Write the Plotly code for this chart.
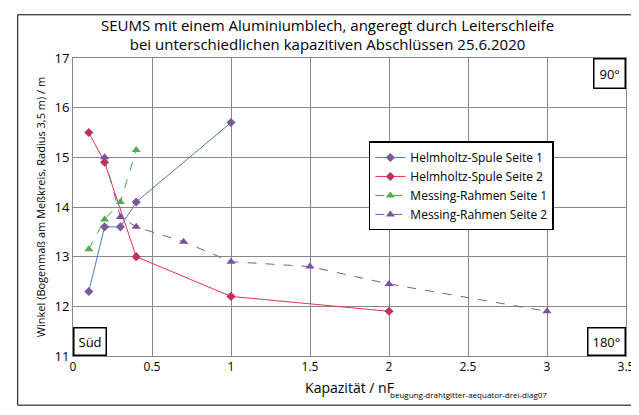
import plotly.graph_objects as go

# Helmholtz-Spule Seite 1
hs1_x = [0.1, 0.2, 0.3, 0.4, 1.0]
hs1_y = [12.3, 13.6, 13.6, 14.1, 15.7]
# Helmholtz-Spule Seite 2
hs2_x = [0.1, 0.2, 0.4, 1.0, 2.0]
hs2_y = [15.5, 14.9, 13.0, 12.2, 11.9]
# Messing-Rahmen Seite 1
mr1_x = [0.1, 0.2, 0.3, 0.4]
mr1_y = [13.15, 13.75, 14.1, 15.15]
# Messing-Rahmen Seite 2
mr2_x = [0.2, 0.3, 0.4, 0.7, 1.0, 1.5, 2.0, 3.0]
mr2_y = [15.0, 13.8, 13.6, 13.3, 12.9, 12.8, 12.45, 11.9]

fig = go.Figure()
fig.add_trace(go.Scatter(x=hs1_x, y=hs1_y, name="Helmholtz-Spule Seite 1", mode="lines+markers",
                         line=dict(color="#4a7ebb", width=1),
                         marker=dict(symbol="diamond", size=7, color="#7a5a9a")))
fig.add_trace(go.Scatter(x=hs2_x, y=hs2_y, name="Helmholtz-Spule Seite 2", mode="lines+markers",
                         line=dict(color="#e8334a", width=1),
                         marker=dict(symbol="diamond", size=7, color="#c0305a")))
fig.add_trace(go.Scatter(x=mr1_x, y=mr1_y, name="Messing-Rahmen Seite 1", mode="lines+markers",
                         line=dict(color="#4aa04a", width=1, dash="dash"),
                         marker=dict(symbol="triangle-up", size=8, color="#4fb04f")))
fig.add_trace(go.Scatter(x=mr2_x, y=mr2_y, name="Messing-Rahmen Seite 2", mode="lines+markers",
                         line=dict(color="#7a5aa8", width=1, dash="dash"),
                         marker=dict(symbol="triangle-up", size=8, color="#7a4fa8")))

fig.update_layout(
    width=639, height=415,
    margin=dict(l=65, r=14, t=50, b=67),
    paper_bgcolor="white", plot_bgcolor="white",
    font=dict(family="Open Sans", size=12, color="black"),
    title=dict(text="SEUMS mit einem Aluminiumblech, angeregt durch Leiterschleife<br>bei unterschiedlichen kapazitiven Abschlüssen 25.6.2020",
               x=0.5, xanchor="center", y=0.945, yanchor="top", font=dict(size=15)),
    legend=dict(x=0.535, y=0.72, xanchor="left", yanchor="top", bordercolor="black", borderwidth=1.5,
                bgcolor="white", font=dict(size=12), tracegroupgap=4),
    xaxis=dict(range=[0, 3.5], dtick=0.5, showgrid=True, gridcolor="#888", linecolor="#888",
               showline=True, mirror=True, zeroline=False, ticks="",
               title=dict(text="Kapazität / nF", standoff=8), tickfont=dict(size=12)),
    yaxis=dict(range=[11, 17], dtick=1, showgrid=True, gridcolor="#888", linecolor="#888",
               showline=True, mirror=True, zeroline=False, ticks="",
               title=dict(text="Winkel (Bogenmaß am Meßkreis, Radius 3,5 m) / m", font=dict(size=11), standoff=6),
               tickfont=dict(size=13)),
    shapes=[dict(type="rect", xref="paper", yref="paper", x0=-0.1, y0=-0.165, x1=1.01, y1=1.145,
                 line=dict(color="black", width=1))],
    annotations=[
        dict(text="90°", x=3.5, y=17, xref="x", yref="y", xanchor="right", yanchor="top", showarrow=False,
             bordercolor="black", borderwidth=1.5, borderpad=5, bgcolor="white", font=dict(size=13)),
        dict(text="Süd", x=0, y=11, xref="x", yref="y", xanchor="left", yanchor="bottom", showarrow=False,
             bordercolor="black", borderwidth=1.5, borderpad=4, bgcolor="white", font=dict(size=13)),
        dict(text="180°", x=3.5, y=11, xref="x", yref="y", xanchor="right", yanchor="bottom", showarrow=False,
             bordercolor="black", borderwidth=1.5, borderpad=4, bgcolor="white", font=dict(size=13)),
        dict(text="beugung-drahtgitter-aequator-drei-diag07", x=2.5, y=-0.105, xref="x", yref="paper",
             xanchor="center", yanchor="top", showarrow=False, font=dict(size=8)),
    ],
)
fig.write_html("out.html")
